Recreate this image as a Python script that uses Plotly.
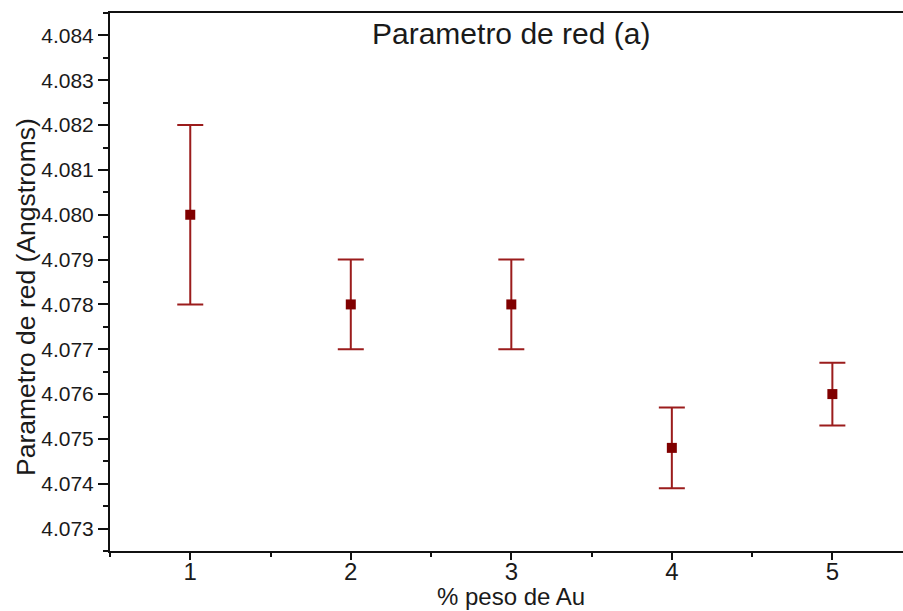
import plotly.graph_objects as go

# Lattice parameter vs. Au weight percent
au_pct = [1, 2, 3, 4, 5]
lattice_a = [4.0800, 4.0780, 4.0780, 4.0748, 4.0760]
lattice_err = [0.0020, 0.0010, 0.0010, 0.0009, 0.0007]
y_ticks = [4.073, 4.074, 4.075, 4.076, 4.077, 4.078, 4.079,
           4.080, 4.081, 4.082, 4.083, 4.084]

FONT = "Liberation Sans, Arial, sans-serif"

fig = go.Figure()
fig.add_trace(go.Scatter(
    x=au_pct, y=lattice_a, mode="markers",
    marker=dict(symbol="square", size=10, color="#800000"),
    error_y=dict(type="data", array=lattice_err, visible=True,
                 color="#9b1c1c", thickness=2, width=13),
    showlegend=False,
))

fig.update_layout(
    width=903, height=611,
    margin=dict(l=110, r=0, t=13, b=60),
    paper_bgcolor="white", plot_bgcolor="white",
    font=dict(family=FONT, color="#1a1a1a"),
    xaxis=dict(
        range=[0.5, 5.44], tickvals=au_pct, ticktext=[str(v) for v in au_pct],
        showgrid=False, zeroline=False,
        showline=True, linecolor="#111", linewidth=2, mirror=True,
        ticks="outside", ticklen=7, tickwidth=2, tickcolor="#111",
        ticklabelstandoff=-9,
        tickfont=dict(size=24, family=FONT, color="#1a1a1a"),
        minor=dict(dtick=0.5, tick0=0.5, ticks="outside", ticklen=4,
                   tickwidth=2, tickcolor="#111", showgrid=False),
    ),
    yaxis=dict(
        range=[4.0725, 4.0845], tickvals=y_ticks,
        ticktext=[f"{v:.3f}" for v in y_ticks],
        showgrid=False, zeroline=False,
        showline=True, linecolor="#111", linewidth=2,
        ticks="outside", ticklen=10, tickwidth=2, tickcolor="#111",
        ticklabelstandoff=0,
        tickfont=dict(size=21, family=FONT, color="#1a1a1a"),
        minor=dict(dtick=0.0005, tick0=4.0725, ticks="outside", ticklen=5,
                   tickwidth=2, tickcolor="#111", showgrid=False),
    ),
    annotations=[
        dict(text="Parametro de red (a)", xref="paper", yref="paper",
             x=(511 - 110) / 793, y=(611 - 60 - 33) / 538, xanchor="center",
             yanchor="middle", showarrow=False,
             font=dict(size=30, family=FONT, color="#1a1a1a")),
        dict(text="% peso de Au", xref="paper", yref="paper",
             x=(511 - 110) / 793, y=-(596 - 551) / 538, xanchor="center",
             yanchor="middle", showarrow=False,
             font=dict(size=24, family=FONT, color="#1a1a1a")),
        dict(text="Parametro de red (Angstroms)", xref="paper", yref="paper",
             x=-(110 - 26) / 793, y=(551 - 297) / 538, xanchor="center",
             yanchor="middle", textangle=-90, showarrow=False,
             font=dict(size=26.5, family=FONT, color="#1a1a1a")),
    ],
)

fig.write_html("out.html")
